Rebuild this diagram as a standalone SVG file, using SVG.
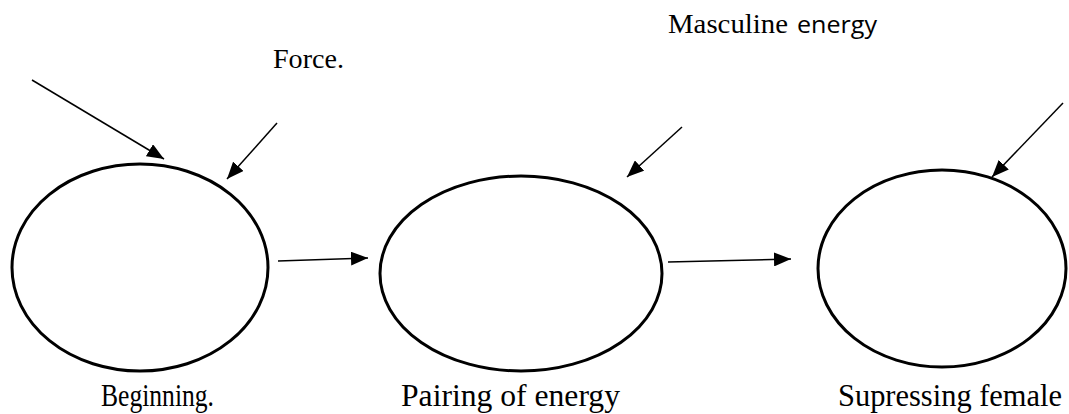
<svg xmlns="http://www.w3.org/2000/svg" width="1069" height="414" viewBox="0 0 1069 414">
<style>
.node{fill:none;stroke:#000;stroke-width:3}
.conn{stroke:#000;stroke-width:1.5;fill:none;marker-end:url(#ah)}
</style>
<defs>
<marker id="ah" viewBox="0 0 17 14" refX="17" refY="7" markerWidth="17" markerHeight="14" markerUnits="userSpaceOnUse" orient="auto">
<path d="M0,0 L17,7 L0,14 Z" fill="#000"/>
</marker>
</defs>
<rect width="1069" height="414" fill="#fff"/>
<g id="connectors">
<line class="conn" x1="32" y1="80" x2="164" y2="159"/>
<line class="conn" x1="277" y1="123" x2="227" y2="179"/>
<line class="conn" x1="682" y1="127" x2="627" y2="177"/>
<line class="conn" x1="1063" y1="103" x2="992" y2="177"/>
<line class="conn" x1="278" y1="261" x2="368" y2="258"/>
<line class="conn" x1="668" y1="262" x2="791" y2="259"/>
</g>
<g id="node-beginning" font-family="'Liberation Serif', 'Times New Roman', serif" fill="#000">
<ellipse class="node" cx="140" cy="267.5" rx="128" ry="103.5"/>
<text x="101" y="406" font-size="31" textLength="113" lengthAdjust="spacingAndGlyphs">Beginning.</text>
</g>
<g id="node-pairing" font-family="'Liberation Serif', 'Times New Roman', serif" fill="#000">
<ellipse class="node" cx="521" cy="273.5" rx="141" ry="97.5"/>
<text x="401" y="406" font-size="31" textLength="219" lengthAdjust="spacingAndGlyphs">Pairing of energy</text>
</g>
<g id="node-supressing" font-family="'Liberation Serif', 'Times New Roman', serif" fill="#000">
<ellipse class="node" cx="942" cy="268.5" rx="124" ry="98.5"/>
<text x="838" y="406" font-size="31" textLength="224" lengthAdjust="spacingAndGlyphs">Supressing female</text>
</g>
<g id="label-force" font-family="'Liberation Serif', 'Times New Roman', serif" fill="#000">
<text x="273" y="68" font-size="27" textLength="71" lengthAdjust="spacingAndGlyphs">Force.</text>
</g>
<g id="label-masculine" fill="#000">
<text x="668" y="33" font-family="'Liberation Serif', 'Times New Roman', serif" font-size="28" textLength="120" lengthAdjust="spacingAndGlyphs">Masculine</text>
<text x="797" y="33" font-family="'Open Sans', 'Liberation Sans', Arial, sans-serif" font-size="23" textLength="80" lengthAdjust="spacingAndGlyphs">energy</text>
</g>
</svg>
